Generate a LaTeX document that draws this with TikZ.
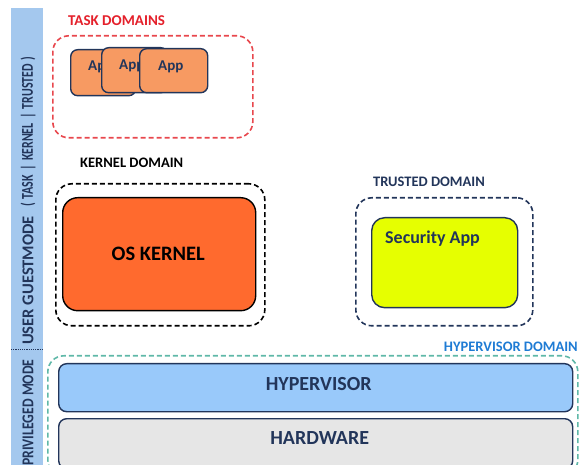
\documentclass[tikz,border=0pt]{standalone}
\usepackage{fontspec}
\usepackage{graphicx}
\setmainfont{Carlito}
\usetikzlibrary{calc}
\definecolor{strip}{HTML}{A4C8EE}
\definecolor{navy}{HTML}{22355A}
\definecolor{taskred}{HTML}{E4202B}
\definecolor{taskdash}{HTML}{E8474D}
\definecolor{appfill}{HTML}{F79A62}
\definecolor{osfill}{HTML}{FF6A2E}
\definecolor{secfill}{HTML}{E6FF00}
\definecolor{hypfill}{HTML}{99C9FA}
\definecolor{hwfill}{HTML}{E6E6E6}
\definecolor{tealdash}{HTML}{5FB8A8}
\definecolor{hyplabel}{HTML}{1E7BD4}
\tikzset{
  layerbox/.style={draw=navy, line width=1.4pt, anchor=north west, inner sep=0pt},
  domainbox/.style={line width=1.6pt, dash pattern=on 5pt off 3pt, rounded corners=16pt, anchor=north west, inner sep=0pt},
  titletext/.style={font=\bfseries\fontsize{14.5}{16}\selectfont, anchor=west, inner sep=0pt},
  sidetext/.style={font=\bfseries\fontsize{16.5}{18}\selectfont, text=navy, rotate=90, anchor=west, inner sep=0pt},
  apptext/.style={font=\bfseries\fontsize{15}{17}\selectfont, text=navy, anchor=west, inner sep=0pt},
  bigtext/.style={font=\bfseries\fontsize{20}{22}\selectfont, text=navy, inner sep=0pt}
}
\newcommand{\sidebar}{\hspace{6pt}|\hspace{6pt}}
\begin{document}
\begin{tikzpicture}[x=1pt,y=-1pt]
\useasboundingbox (0,0) rectangle (579,465);
% side band with the two privilege levels
\fill[strip] (11,8) rectangle (43,465);
\draw[navy, line width=0.8pt, dash pattern=on 1.2pt off 1pt] (11,349) -- (43,349);
\node[sidetext] (guest) at (28,345) {USER GUESTMODE};
\node[sidetext] (scope) at (28,207) {\scalebox{0.72}[1]{(\hspace{5pt}TASK\sidebar KERNEL\sidebar TRUSTED\hspace{5pt})}};
\node[sidetext] (priv) at (28,466) {\scalebox{0.83}[1]{PRIVILEGED MODE}};

% task domains
\node[titletext, text=taskred, font=\bfseries\fontsize{15}{17}\selectfont] (tasklbl) at (68,21) {TASK DOMAINS};
\node[domainbox, draw=taskdash, minimum width=200pt, minimum height=102pt] (taskdom) at (52,35) {};
\node[layerbox, fill=appfill, rounded corners=7pt, minimum width=65pt, minimum height=46pt] (app1) at (70,49) {};
\node[apptext] (app1t) at (88,67) {App};
\node[layerbox, fill=appfill, rounded corners=7pt, minimum width=66pt, minimum height=45pt] (app2) at (101,47) {};
\node[apptext] (app2t) at (119,66) {App};
\node[layerbox, fill=appfill, rounded corners=7pt, minimum width=68pt, minimum height=44pt] (app3) at (139,48) {};
\node[apptext] (app3t) at (158,67) {App};

% kernel domain
\node[titletext, text=black] (kernlbl) at (80,163) {KERNEL DOMAIN};
\node[domainbox, draw=black, minimum width=209pt, minimum height=142pt] (kerndom) at (55,183) {};
\node[layerbox, draw=black, fill=osfill, rounded corners=15pt, minimum width=193pt, minimum height=113pt] (oskernel) at (62,197) {};
\node[bigtext, text=black, font=\bfseries\fontsize{20.5}{22}\selectfont] (ostext) at ($(oskernel.center)+(-1,0)$) {OS KERNEL};

% trusted domain
\node[titletext, text=navy] (trustlbl) at (373,182) {TRUSTED DOMAIN};
\node[domainbox, draw=navy, minimum width=177pt, minimum height=128pt] (trustdom) at (355,197) {};
\node[layerbox, fill=secfill, rounded corners=13pt, minimum width=146pt, minimum height=90pt] (secapp) at (371,217) {};
\node[font=\bfseries\fontsize{18}{20}\selectfont, text=navy, anchor=west, inner sep=0pt] (sectext) at ($(secapp.north west)+(14,22)$) {Security App};

% hypervisor domain
\node[titletext, text=hyplabel, anchor=east] (hyplbl) at (578,347) {HYPERVISOR DOMAIN};
\node[domainbox, draw=tealdash, minimum width=530pt, minimum height=120pt] (hypdom) at (47,355) {};
\node[layerbox, fill=hypfill, rounded corners=8pt, minimum width=514pt, minimum height=48pt] (hyp) at (58,363) {};
\node[bigtext] (hyptext) at ($(hyp.center)+(3,-4)$) {HYPERVISOR};
\node[layerbox, fill=hwfill, rounded corners=8pt, minimum width=514pt, minimum height=50pt] (hw) at (58,418) {};
\node[bigtext] (hwtext) at ($(hw.center)+(4,-6)$) {HARDWARE};
\end{tikzpicture}
\end{document}
